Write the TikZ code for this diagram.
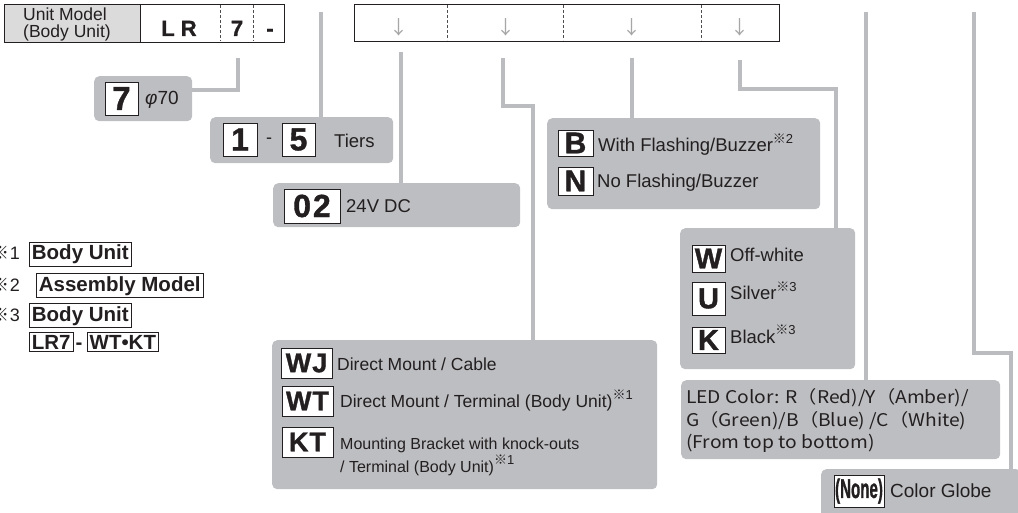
\documentclass[tikz,border=0pt]{standalone}
\usepackage{fontspec}
\usepackage{graphicx}
\setmainfont{Liberation Sans}
\newfontfamily\cjk{Noto Sans CJK JP}
\newfontfamily\heavy{Liberation Sans}[UprightFont={* Bold}, FakeBold=1.2]
\usetikzlibrary{positioning}

\definecolor{panelgray}{RGB}{189,190,193}
\definecolor{wiregray}{RGB}{186,188,191}
\definecolor{headgray}{RGB}{219,219,219}
\definecolor{ink}{RGB}{35,31,32}
\newcommand\fsz[1]{\fontsize{#1}{#1}\selectfont}
\newcommand\refmark[1]{\raisebox{0.45em}{\fsz{13}{\cjk ※}#1}}
\newcommand\ledline[1]{\scalebox{1.1}[1]{\cjk\fsz{17.5}#1}}

\begin{document}
\begin{tikzpicture}[x=1pt, y=-1pt, every node/.style={text=ink},
  panel/.style={fill=panelgray, rounded corners=5pt, inner sep=0pt, anchor=north west},
  codebox/.style={draw=ink, fill=white, line width=0.8pt, inner sep=0pt, font=\heavy},
  notebox/.style={draw=ink, line width=0.8pt, inner xsep=2.5pt, inner ysep=2.5pt, font=\bfseries\fsz{20.5}, anchor=base west},
  wire/.style={draw=wiregray, line width=4pt},
  lbl/.style={anchor=base west, inner sep=0pt},
  divider/.style={draw=ink!80, line width=0.8pt, dash pattern=on 3pt off 2pt}]
\useasboundingbox (0,0) rectangle (1018,513);

% model header
\node[draw=ink, fill=headgray, line width=0.8pt, minimum width=136pt, minimum height=38pt, anchor=north west] (unitcell) at (4,4) {};
\node[draw=ink, fill=white, line width=0.8pt, minimum width=144pt, minimum height=38pt, anchor=north west] (codecell) at (140,4) {};
\node[lbl, font=\fsz{17.5}] (unitA) at (23,21) {Unit Model};
\node[lbl, font=\fsz{17.5}] (unitB) at (23,38) {(Body Unit)};
\node[inner sep=0pt, anchor=base, font=\heavy\fsz{22}] (lr) at (179,36) {L\kern6pt R};
\node[inner sep=0pt, anchor=base, font=\heavy\fsz{22}] (seven) at (237,36) {7};
\node[inner sep=0pt, anchor=base, font=\heavy\fsz{22}] (dash) at (270,36) {-};
\draw[divider] (220,5) -- (220,41);
\draw[divider] (253,5) -- (253,41);

\node[draw=ink, fill=white, line width=0.8pt, minimum width=425pt, minimum height=37pt, anchor=north west] (suffixcell) at (354,4) {};
\foreach \x in {447,563,701} \draw[divider] (\x,5) -- (\x,40);
\foreach \x/\n in {399/a,506/b,632/c,740/d}
  \node[text=gray!70, font=\cjk\fsz{19}, inner sep=0pt] (arrow\n) at (\x,27) {↓};

% option panels
\node[panel, minimum width=98pt, minimum height=45pt] (dia) at (94,76) {};
\node[codebox, minimum width=33pt, minimum height=33pt, font=\heavy\fsz{33}] (dia7) at (121.5,98.5) {7};
\node[lbl, font=\fsz{19}] (diatext) at (145,105) {{\itshape φ}70};

\node[panel, minimum width=183pt, minimum height=46pt] (tiers) at (210,117) {};
\node[codebox, minimum width=34pt, minimum height=33pt, font=\heavy\fsz{32}] (tier1) at (240,139.5) {1};
\node[inner sep=0pt, font=\fsz{18}] (tierdash) at (269,141) {-};
\node[codebox, minimum width=33pt, minimum height=33pt, font=\heavy\fsz{32}] (tier5) at (298.5,139.5) {5};
\node[lbl, font=\fsz{18.5}] (tiertext) at (334,148) {Tiers};

\node[panel, minimum width=247pt, minimum height=44pt] (volt) at (273,183) {};
\node[codebox, minimum width=56pt, minimum height=34pt, font=\heavy\fsz{32}] (volt02) at (312,206) {0\kern2pt 2};
\node[lbl, font=\fsz{18.5}] (volttext) at (346,213) {24V DC};

\node[panel, minimum width=273pt, minimum height=91pt] (buzz) at (547,118) {};
\node[codebox, minimum width=35pt, minimum height=26pt, font=\heavy\fsz{30}] (buzzB) at (575.5,143) {B};
\node[lbl, font=\fsz{18.5}] (buzzBtext) at (598,152) {With Flashing/Buzzer\refmark{2}};
\node[codebox, minimum width=35pt, minimum height=28pt, font=\heavy\fsz{30}] (buzzN) at (575.5,181) {N};
\node[lbl, font=\fsz{18.5}] (buzzNtext) at (597,188) {No Flashing/Buzzer};

\node[panel, minimum width=175pt, minimum height=141pt] (body) at (680,228) {};
\node[codebox, minimum width=33pt, minimum height=27pt, font=\heavy\fsz{29}] (bodyW) at (708.5,258.5) {W};
\node[lbl, font=\fsz{18.5}] (bodyWtext) at (730,262) {Off-white};
\node[codebox, minimum width=33pt, minimum height=33pt, font=\heavy\fsz{29}] (bodyU) at (708.5,298.5) {U};
\node[lbl, font=\fsz{18.5}] (bodyUtext) at (730,300) {Silver\refmark{3}};
\node[codebox, minimum width=33pt, minimum height=26pt, font=\heavy\fsz{29}] (bodyK) at (708.5,340) {K};
\node[lbl, font=\fsz{18.5}] (bodyKtext) at (730,343) {Black\refmark{3}};

\node[panel, minimum width=385pt, minimum height=149pt] (mount) at (272,340) {};
\node[codebox, minimum width=51pt, minimum height=30pt, font=\heavy\fsz{27}] (mountWJ) at (306.5,363) {W\kern1pt J};
\node[lbl, font=\fsz{17.5}] (mountWJtext) at (337,370) {Direct Mount / Cable};
\node[codebox, minimum width=51pt, minimum height=30pt, font=\heavy\fsz{27}] (mountWT) at (307.5,401) {W\kern1pt T};
\node[lbl, font=\fsz{17.5}] (mountWTtext) at (340,407) {Direct Mount / Terminal (Body Unit)\refmark{1}};
\node[codebox, minimum width=51pt, minimum height=30pt, font=\heavy\fsz{27}] (mountKT) at (307.5,442) {K\kern1pt T};
\node[lbl, font=\fsz{16}] (mountKTa) at (340,449) {Mounting Bracket with knock-outs};
\node[lbl, font=\fsz{16}] (mountKTb) at (340,472) {/ Terminal (Body Unit)\refmark{1}};

\node[panel, minimum width=319pt, minimum height=79pt] (led) at (681,380) {};
\node[lbl] (led1) at (686,403) {\ledline{LED Color: R（Red)/Y（Amber)/}};
\node[lbl] (led2) at (686,426) {\ledline{G（Green)/B（Blue) /C（White)}};
\node[lbl] (led3) at (686,448) {\ledline{(From top to bottom)}};

\node[panel, minimum width=200pt, minimum height=50pt] (globe) at (821,469) {};
\node[codebox, minimum width=50pt, minimum height=32pt] (globeNone) at (859,491) {\scalebox{0.56}[1]{\bfseries\fsz{27}(None)}};
\node[lbl, font=\fsz{19}] (globetext) at (890,497) {Color Globe};

% wires from the model code down to the panels
\coordinate (w7) at (238,58);
\draw[wire] (w7) |- ([yshift=8.5pt]dia.east);
\coordinate (wtier) at (321,12);
\draw[wire] (wtier) -- (wtier |- tiers.north);
\coordinate (wvolt) at (401,52);
\draw[wire] (wvolt) -- (wvolt |- volt.north);
\coordinate (wmnt) at (503,58);
\coordinate (wmntbend) at (533,106);
\draw[wire] (wmnt) |- (wmntbend) -- (wmntbend |- mount.north);
\coordinate (wbuzz) at (632,58);
\draw[wire] (wbuzz) -- (wbuzz |- buzz.north);
\coordinate (wbody) at (740,60);
\coordinate (wbodybend) at (836,89);
\draw[wire] (wbody) |- (wbodybend) -- (wbodybend |- body.north);
\coordinate (wled) at (866,12);
\draw[wire] (wled) -- (wled |- led.north);
\coordinate (wglobe) at (974,12);
\coordinate (wglobebend) at (1011,353);
\draw[wire] (wglobe) |- (wglobebend) -- (wglobebend |- globe.north);

% notes
\node[anchor=base east, inner sep=0pt, font=\fsz{18}] (note1) at (20,260) {{\cjk ※}1};
\node[notebox] (note1box) at (29,260) {Body Unit};
\node[anchor=base east, inner sep=0pt, font=\fsz{18}] (note2) at (20,291) {{\cjk ※}2};
\node[notebox] (note2box) at (36,291) {Assembly Model};
\node[anchor=base east, inner sep=0pt, font=\fsz{18}] (note3) at (20,321) {{\cjk ※}3};
\node[notebox] (note3box) at (29,321) {Body Unit};
\node[notebox] (note4box) at (29,349) {LR7};
\node[inner sep=0pt, font=\bfseries\fsz{20.5}, base right=2pt of note4box] (note4dash) {-};
\node[notebox, base right=4pt of note4dash] (note4code) {WT•KT};
\end{tikzpicture}
\end{document}
